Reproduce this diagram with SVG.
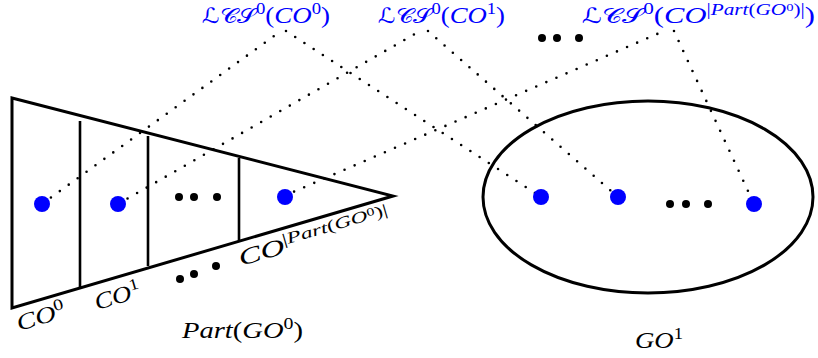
<svg xmlns="http://www.w3.org/2000/svg" width="818" height="358" viewBox="0 0 818 358">
<style>
.shape{fill:none;stroke:#000;stroke-width:3;stroke-linejoin:miter}
.bar{stroke:#000;stroke-width:2.6}
.dotted{fill:none;stroke:#000;stroke-width:2.6;stroke-linecap:round;stroke-dasharray:0 11}
.pt{fill:#0000ff}
.bd{fill:#000}
text{font-family:"Liberation Serif","DejaVu Serif",serif;font-size:23px}
.blue{fill:#0000ff}
.it{font-style:italic}
.cal{font-family:"DejaVu Sans","Noto Sans",sans-serif;font-style:normal;font-size:21px}
</style>
<g id="connectors">
<line class="dotted" x1="42" y1="204" x2="281" y2="31"/>
<line class="dotted" x1="286" y1="31" x2="541" y2="197"/>
<line class="dotted" x1="118" y1="204" x2="420" y2="31"/>
<line class="dotted" x1="428" y1="31" x2="618" y2="197"/>
<line class="dotted" x1="284" y1="196" x2="664" y2="31"/>
<line class="dotted" x1="674" y1="31" x2="754" y2="204"/>
</g>
<g id="partition">
<polygon class="shape" points="12,98 393,196 12,308"/>
<line class="bar" x1="80" y1="121" x2="80" y2="288"/>
<line class="bar" x1="148" y1="136" x2="148" y2="266"/>
<line class="bar" x1="239" y1="158" x2="239" y2="242"/>
<circle class="pt" cx="42" cy="204" r="8"/>
<circle class="pt" cx="118" cy="204" r="8"/>
<circle class="pt" cx="285" cy="197" r="8"/>
<circle class="bd" cx="179" cy="197" r="4"/>
<circle class="bd" cx="194" cy="197" r="4"/>
<circle class="bd" cx="217" cy="197" r="4"/>
<circle class="bd" cx="180" cy="279" r="4"/>
<circle class="bd" cx="194" cy="274" r="4"/>
<circle class="bd" cx="216" cy="266" r="4"/>
</g>
<g id="go1">
<ellipse class="shape" cx="648" cy="197" rx="165" ry="96" stroke-width="2.8"/>
<circle class="pt" cx="541" cy="197" r="8"/>
<circle class="pt" cx="618" cy="197" r="8"/>
<circle class="pt" cx="754" cy="204" r="8"/>
<circle class="bd" cx="670" cy="204" r="4"/>
<circle class="bd" cx="686" cy="204" r="4"/>
<circle class="bd" cx="708" cy="204" r="4"/>
</g>
<g id="topdots">
<circle class="bd" cx="542" cy="38" r="4"/>
<circle class="bd" cx="557" cy="38" r="4"/>
<circle class="bd" cx="579" cy="38" r="4"/>
</g>
<g id="label-lcs0">
<text class="blue" x="202" y="23" textLength="128" lengthAdjust="spacingAndGlyphs"><tspan class="cal">ℒ𝒞𝒮</tspan><tspan dy="-9" font-size="16">0</tspan><tspan dy="9">(</tspan><tspan class="it">CO</tspan><tspan dy="-9" font-size="16">0</tspan><tspan dy="9">)</tspan></text>
</g>
<g id="label-lcs1">
<text class="blue" x="378" y="23" textLength="127" lengthAdjust="spacingAndGlyphs"><tspan class="cal">ℒ𝒞𝒮</tspan><tspan dy="-9" font-size="16">0</tspan><tspan dy="9">(</tspan><tspan class="it">CO</tspan><tspan dy="-9" font-size="16">1</tspan><tspan dy="9">)</tspan></text>
</g>
<g id="label-lcsn">
<text class="blue" x="582" y="23" textLength="233" lengthAdjust="spacingAndGlyphs"><tspan class="cal">ℒ𝒞𝒮</tspan><tspan dy="-9" font-size="16">0</tspan><tspan dy="9">(</tspan><tspan class="it">CO</tspan><tspan dy="-8" font-size="16">|<tspan class="it">Part</tspan>(<tspan class="it">GO</tspan><tspan dy="-4" font-size="11">0</tspan><tspan dy="4">)|</tspan></tspan><tspan dy="8">)</tspan></text>
</g>
<g id="label-co0">
<text transform="translate(19,331) rotate(-16.3)" textLength="50" lengthAdjust="spacingAndGlyphs"><tspan class="it">CO</tspan><tspan dy="-9" font-size="16">0</tspan></text>
</g>
<g id="label-co1">
<text transform="translate(97,310) rotate(-16.3)" textLength="47" lengthAdjust="spacingAndGlyphs"><tspan class="it">CO</tspan><tspan dy="-9" font-size="16">1</tspan></text>
</g>
<g id="label-con">
<text transform="translate(241,266) rotate(-16.3)" textLength="156" lengthAdjust="spacingAndGlyphs"><tspan class="it">CO</tspan><tspan dy="-8" font-size="16">|<tspan class="it">Part</tspan>(<tspan class="it">GO</tspan><tspan dy="-4" font-size="11">0</tspan><tspan dy="4">)|</tspan></tspan></text>
</g>
<g id="label-part">
<text x="182" y="338" textLength="121" lengthAdjust="spacingAndGlyphs"><tspan class="it">Part</tspan>(<tspan class="it">GO</tspan><tspan dy="-9" font-size="16">0</tspan><tspan dy="9">)</tspan></text>
</g>
<g id="label-go1">
<text x="635" y="348" textLength="48" lengthAdjust="spacingAndGlyphs"><tspan class="it">GO</tspan><tspan dy="-9" font-size="16">1</tspan></text>
</g>
</svg>
